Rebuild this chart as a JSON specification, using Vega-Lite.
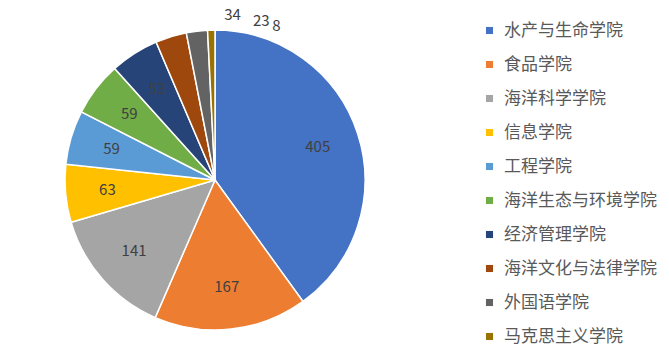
{
  "$schema": "https://vega.github.io/schema/vega-lite/v6.json",
  "width": 430,
  "height": 360,
  "autosize": {"type": "pad"},
  "padding": 0,
  "background": "white",
  "config": {"view": {"stroke": null}, "font": "Noto Sans CJK SC"},
  "data": {"values": [
    {"college": "水产与生命学院", "count": 405, "order": 1},
    {"college": "食品学院", "count": 167, "order": 2},
    {"college": "海洋科学学院", "count": 141, "order": 3},
    {"college": "信息学院", "count": 63, "order": 4},
    {"college": "工程学院", "count": 59, "order": 5},
    {"college": "海洋生态与环境学院", "count": 59, "order": 6},
    {"college": "经济管理学院", "count": 53, "order": 7},
    {"college": "海洋文化与法律学院", "count": 34, "order": 8},
    {"college": "外国语学院", "count": 23, "order": 9},
    {"college": "马克思主义学院", "count": 8, "order": 10}
  ]},
  "encoding": {
    "theta": {"field": "count", "type": "quantitative", "stack": true},
    "order": {"field": "order", "type": "quantitative"}
  },
  "layer": [
    {
      "mark": {"type": "arc", "outerRadius": 150, "stroke": "white", "strokeWidth": 1.5},
      "encoding": {
        "color": {
          "field": "college", "type": "nominal", "sort": null,
          "scale": {
            "domain": ["水产与生命学院", "食品学院", "海洋科学学院", "信息学院", "工程学院", "海洋生态与环境学院", "经济管理学院", "海洋文化与法律学院", "外国语学院", "马克思主义学院"],
            "range": ["#4472C4", "#ED7D31", "#A5A5A5", "#FFC000", "#5B9BD5", "#70AD47", "#264478", "#9E480E", "#636363", "#997300"]
          },
          "legend": {
            "title": null, "orient": "none", "legendX": 481, "legendY": 22,
            "symbolType": "square", "symbolSize": 50, "symbolStrokeWidth": 0,
            "labelFontSize": 17, "labelColor": "#595959", "labelFont": "Noto Sans CJK SC",
            "rowPadding": 16, "labelOffset": 6, "labelLimit": 300
          }
        }
      }
    },
    {
      "transform": [{"filter": "datum.count >= 50"}],
      "mark": {"type": "text", "radius": 108, "fontSize": 15, "color": "#404040", "font": "Noto Sans CJK SC"},
      "encoding": {"text": {"field": "count", "type": "quantitative"}}
    },
    {
      "transform": [{"filter": "datum.count < 50"}],
      "mark": {"type": "text", "radius": 166, "fontSize": 15, "color": "#404040", "font": "Noto Sans CJK SC"},
      "encoding": {"text": {"field": "count", "type": "quantitative"}}
    }
  ]
}
